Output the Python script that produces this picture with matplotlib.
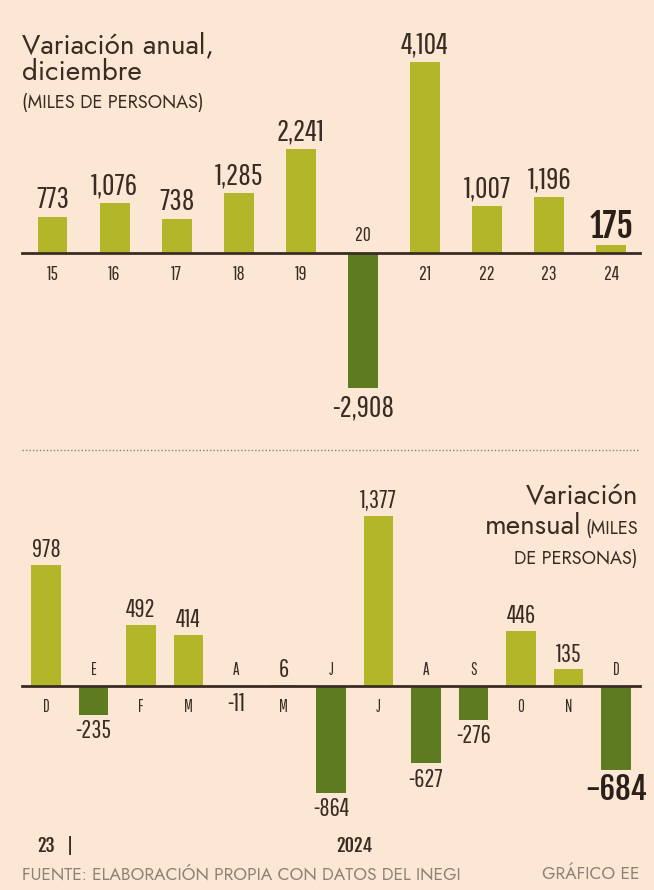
import matplotlib
matplotlib.use("Agg")
import matplotlib.pyplot as plt
from matplotlib.lines import Line2D
import matplotlib.transforms as mtransforms

# --- data ---
years = ["15", "16", "17", "18", "19", "20", "21", "22", "23", "24"]
annual = [773, 1076, 738, 1285, 2241, -2908, 4104, 1007, 1196, 175]

months = ["D", "E", "F", "M", "A", "M", "J", "J", "A", "S", "O", "N", "D"]
monthly = [978, -235, 492, 414, -11, 6, -864, 1377, -627, -276, 446, 135, -684]

# --- style ---
BG = "#fbe7d3"
LIGHT = "#b3b629"
DARK = "#5d7c22"
TXT = "#3a2c24"
GREY = "#8d8178"

NUM = "Pathway Gothic One"
NUMB = "Fjalla One"
TITLE = "Jost"

W, H = 654, 890
fig = plt.figure(figsize=(W / 100, H / 100), dpi=100, facecolor=BG)


def fx(x):
    return x / W


def fy(y):
    return 1 - y / H


def make_axes(top_px, bot_px, base_px, scale, c0, step):
    ax = fig.add_axes([0, fy(bot_px), 1, fy(top_px) - fy(bot_px)])
    ax.set_facecolor("none")
    ax.set_xlim(-c0 / step, (W - c0) / step)
    ax.set_ylim(-(bot_px - base_px) / scale, (base_px - top_px) / scale)
    ax.axis("off")
    ax.axhline(0, xmin=22 / W, xmax=640 / W, color=TXT, lw=2, zorder=3)
    return ax


# ---------- annual chart ----------
ax1 = make_axes(40, 420, 253, 0.0465, 52.5, 62.1)
for i, (lab, v) in enumerate(zip(years, annual)):
    col = LIGHT if v >= 0 else DARK
    ax1.bar(i, v, width=0.48, color=col, zorder=2)
    last = i == len(annual) - 1
    txt = f"{v:,}"
    if v >= 0:
        if last:
            ax1.annotate(txt, (i, v), xytext=(0, 0), textcoords="offset points",
                         ha="center", va="bottom", color="#2a1f19", family=NUMB,
                         fontsize=24)
        else:
            ax1.annotate(txt, (i, v), xytext=(0, 2), textcoords="offset points",
                         ha="center", va="bottom", color=TXT, family=NUM,
                         fontsize=22)
        ax1.annotate(lab, (i, 0), xytext=(0, -9), textcoords="offset points",
                     ha="center", va="top", color=TXT, family=NUM, fontsize=14)
    else:
        ax1.annotate(txt, (i, v), xytext=(0, -4), textcoords="offset points",
                     ha="center", va="top", color=TXT, family=NUM, fontsize=22)
        ax1.annotate(lab, (i, 0), xytext=(0, 6), textcoords="offset points",
                     ha="center", va="bottom", color=TXT, family=NUM, fontsize=14)

fig.text(fx(22), fy(53), "Variación anual,", family=TITLE, fontsize=20,
         fontweight="medium", color=TXT, va="baseline")
fig.text(fx(22), fy(80), "diciembre", family=TITLE, fontsize=20,
         fontweight="medium", color=TXT, va="baseline")
fig.text(fx(22), fy(108), "(MILES DE PERSONAS)", family=TITLE, fontsize=13,
         color=TXT, va="baseline")

# separator
fig.add_artist(Line2D([fx(22), fx(640)], [fy(450), fy(450)], color=GREY,
                      lw=1, ls=(0, (1, 1.5))))

# ---------- monthly chart ----------
ax2 = make_axes(460, 830, 686, 0.1235, 46, 47.5)
for i, (lab, v) in enumerate(zip(months, monthly)):
    col = LIGHT if v >= 0 else DARK
    ax2.bar(i, v, width=0.63, color=col, zorder=2)
    last = i == len(monthly) - 1
    txt = f"{v:,}"
    if v >= 0:
        ax2.annotate(txt, (i, v), xytext=(0, 2), textcoords="offset points",
                     ha="center", va="bottom", color=TXT, family=NUM, fontsize=18)
        ax2.annotate(lab, (i, 0), xytext=(0, -9), textcoords="offset points",
                     ha="center", va="top", color=TXT, family=NUM, fontsize=12)
    else:
        if last:
            ax2.annotate(txt, (i, v), xytext=(0, -2), textcoords="offset points",
                         ha="center", va="top", color="#2a1f19", family=NUMB,
                         fontsize=22)
        else:
            ax2.annotate(txt, (i, v), xytext=(0, -3), textcoords="offset points",
                         ha="center", va="top", color=TXT, family=NUM, fontsize=18)
        ax2.annotate(lab, (i, 0), xytext=(0, 6), textcoords="offset points",
                     ha="center", va="bottom", color=TXT, family=NUM, fontsize=12)

fig.text(fx(638), fy(504), "Variación", family=TITLE, fontsize=20,
         fontweight="medium", color=TXT, ha="right", va="baseline")
t1 = fig.text(fx(638), fy(534), "(MILES", family=TITLE, fontsize=13,
              color=TXT, ha="right", va="baseline")
fig.canvas.draw()
bb = t1.get_window_extent()
fig.text((bb.x0 - 4) / W, fy(534), "mensual", family=TITLE, fontsize=20,
         fontweight="medium", color=TXT, ha="right", va="baseline")
fig.text(fx(638), fy(564), "DE PERSONAS)", family=TITLE, fontsize=13,
         color=TXT, ha="right", va="baseline")

# year markers under the monthly chart
trans = mtransforms.blended_transform_factory(ax2.transData, fig.transFigure)
for xpos, s in [(0, "23"), (0.5, "|"), (6.5, "2024")]:
    ax2.text(xpos, fy(852), s, transform=trans, ha="center", va="baseline",
             family=NUMB, fontsize=13, color=TXT)

# footer
fig.text(fx(22), fy(879), "FUENTE: ELABORACIÓN PROPIA CON DATOS DEL INEGI",
         family=TITLE, fontsize=12.5, color=GREY, va="baseline")
fig.text(fx(640), fy(879), "GRÁFICO EE", family=TITLE, fontsize=12.5,
         color=GREY, ha="right", va="baseline")

fig.savefig("out.png", dpi=100, facecolor=BG)
